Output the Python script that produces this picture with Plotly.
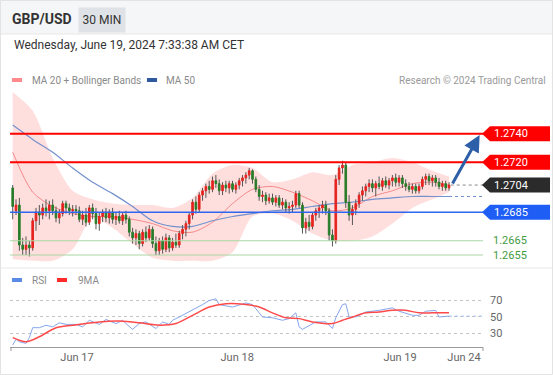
import plotly.graph_objects as go

# ---------------- data ----------------
candle_idx = list(range(132))
opens = [1.2702,1.2686,1.2690,1.2662,1.2659,1.2662,1.2660,1.2679,1.2685,1.2683,
         1.2688,1.2686,1.2690,1.2686,1.2681,1.2684,1.2691,1.2688,1.2686,1.2687,
         1.2686,1.2680,1.2683,1.2678,1.2688,1.2684,1.2677,1.2682,1.2685,1.2681,
         1.2685,1.2680,1.2682,1.2679,1.2683,1.2680,1.2671,1.2667,1.2670,1.2663,
         1.2671,1.2667,1.2673,1.2663,1.2658,1.2665,1.2659,1.2667,1.2660,1.2664,
         1.2662,1.2670,1.2673,1.2677,1.2683,1.2692,1.2687,1.2697,1.2700,1.2703,
         1.2701,1.2707,1.2705,1.2700,1.2704,1.2702,1.2705,1.2701,1.2704,1.2707,
         1.2709,1.2711,1.2714,1.2708,1.2701,1.2696,1.2697,1.2693,1.2695,1.2692,
         1.2695,1.2690,1.2692,1.2688,1.2689,1.2690,1.2698,1.2690,1.2674,1.2678,
         1.2675,1.2683,1.2686,1.2688,1.2690,1.2686,1.2669,1.2665,1.2708,1.2716,
         1.2718,1.2692,1.2683,1.2687,1.2691,1.2697,1.2700,1.2703,1.2705,1.2702,
         1.2705,1.2703,1.2707,1.2704,1.2707,1.2709,1.2706,1.2709,1.2705,1.2703,
         1.2701,1.2703,1.2700,1.2703,1.2708,1.2710,1.2707,1.2709,1.2706,1.2703,
         1.2705,1.2702]
highs = [1.2704,1.2694,1.2695,1.2667,1.2668,1.2665,1.2681,1.2688,1.2690,1.2691,
         1.2694,1.2693,1.2694,1.2689,1.2687,1.2693,1.2693,1.2691,1.2690,1.2690,
         1.2689,1.2686,1.2688,1.2690,1.2691,1.2688,1.2685,1.2687,1.2688,1.2687,
         1.2688,1.2685,1.2686,1.2685,1.2686,1.2682,1.2674,1.2673,1.2672,1.2673,
         1.2675,1.2676,1.2675,1.2668,1.2667,1.2668,1.2670,1.2669,1.2667,1.2670,
         1.2672,1.2676,1.2679,1.2685,1.2694,1.2696,1.2699,1.2702,1.2705,1.2707,
         1.2710,1.2711,1.2708,1.2706,1.2707,1.2707,1.2707,1.2706,1.2709,1.2711,
         1.2713,1.2716,1.2715,1.2710,1.2704,1.2700,1.2699,1.2698,1.2698,1.2697,
         1.2697,1.2695,1.2694,1.2692,1.2693,1.2700,1.2700,1.2692,1.2681,1.2683,
         1.2685,1.2688,1.2690,1.2693,1.2693,1.2688,1.2673,1.2711,1.2718,1.2721,
         1.2720,1.2697,1.2690,1.2694,1.2699,1.2703,1.2705,1.2708,1.2708,1.2707,
         1.2710,1.2709,1.2710,1.2709,1.2711,1.2712,1.2711,1.2711,1.2708,1.2706,
         1.2705,1.2705,1.2705,1.2710,1.2712,1.2712,1.2711,1.2711,1.2709,1.2707,
         1.2707,1.2706]
lows = [1.2680,1.2683,1.2658,1.2655,1.2655,1.2654,1.2658,1.2672,1.2676,1.2680,
        1.2682,1.2680,1.2683,1.2678,1.2677,1.2682,1.2684,1.2683,1.2682,1.2683,
        1.2678,1.2676,1.2675,1.2676,1.2680,1.2673,1.2672,1.2678,1.2678,1.2677,
        1.2677,1.2676,1.2677,1.2676,1.2677,1.2668,1.2663,1.2662,1.2659,1.2661,
        1.2664,1.2665,1.2660,1.2655,1.2655,1.2656,1.2657,1.2657,1.2658,1.2660,
        1.2660,1.2666,1.2668,1.2673,1.2680,1.2684,1.2685,1.2693,1.2695,1.2698,
        1.2699,1.2702,1.2697,1.2697,1.2699,1.2698,1.2699,1.2698,1.2701,1.2703,
        1.2705,1.2708,1.2705,1.2699,1.2693,1.2692,1.2690,1.2691,1.2690,1.2689,
        1.2688,1.2687,1.2685,1.2684,1.2685,1.2688,1.2688,1.2670,1.2670,1.2672,
        1.2673,1.2679,1.2681,1.2684,1.2683,1.2665,1.2661,1.2663,1.2704,1.2712,
        1.2688,1.2679,1.2676,1.2683,1.2688,1.2693,1.2696,1.2699,1.2699,1.2696,
        1.2701,1.2700,1.2702,1.2701,1.2703,1.2703,1.2703,1.2702,1.2700,1.2699,
        1.2698,1.2698,1.2698,1.2701,1.2704,1.2704,1.2703,1.2703,1.2701,1.2700,
        1.2700,1.2700]
closes = [1.2689,1.2690,1.2662,1.2659,1.2662,1.2660,1.2679,1.2685,1.2683,1.2688,
          1.2686,1.2690,1.2686,1.2681,1.2684,1.2691,1.2688,1.2686,1.2687,1.2686,
          1.2680,1.2683,1.2678,1.2688,1.2684,1.2677,1.2682,1.2685,1.2681,1.2685,
          1.2680,1.2682,1.2679,1.2683,1.2680,1.2671,1.2667,1.2670,1.2663,1.2671,
          1.2667,1.2673,1.2663,1.2658,1.2665,1.2659,1.2667,1.2660,1.2664,1.2662,
          1.2670,1.2673,1.2677,1.2683,1.2692,1.2687,1.2697,1.2700,1.2703,1.2701,
          1.2707,1.2705,1.2700,1.2704,1.2702,1.2705,1.2701,1.2704,1.2707,1.2709,
          1.2711,1.2714,1.2708,1.2701,1.2696,1.2697,1.2693,1.2695,1.2692,1.2695,
          1.2690,1.2692,1.2688,1.2689,1.2690,1.2698,1.2690,1.2674,1.2678,1.2675,
          1.2683,1.2686,1.2688,1.2690,1.2686,1.2669,1.2665,1.2708,1.2716,1.2718,
          1.2692,1.2683,1.2687,1.2691,1.2697,1.2700,1.2703,1.2705,1.2702,1.2705,
          1.2703,1.2707,1.2704,1.2707,1.2709,1.2706,1.2709,1.2705,1.2703,1.2701,
          1.2703,1.2700,1.2703,1.2708,1.2710,1.2707,1.2709,1.2706,1.2703,1.2705,
          1.2702,1.2704]

ind_idx = [0, 6, 12, 18, 24, 30, 36, 42, 48, 54, 60, 66, 72, 78, 84, 90, 96, 102, 108, 114, 120, 126, 131]
ma20 = [1.2727, 1.2699, 1.2689, 1.2684, 1.2682, 1.2682, 1.2680, 1.2677, 1.2672, 1.2671, 1.2678, 1.2691,
        1.2701, 1.2703, 1.2699, 1.2693, 1.2686, 1.2688, 1.2696, 1.2700, 1.2705, 1.2706, 1.2704]
ma50 = [1.2746, 1.2736, 1.2727, 1.2716, 1.2706, 1.2698, 1.2689, 1.2679, 1.2675, 1.2675, 1.2679, 1.2682,
        1.2684, 1.2686, 1.2687, 1.2689, 1.2691, 1.2692, 1.2694, 1.2695, 1.2696, 1.2696, 1.2696]
bb_upper = [1.2769, 1.2756, 1.2723, 1.2700, 1.2694, 1.2691, 1.2690, 1.2690, 1.2688, 1.2695, 1.2712, 1.2718,
            1.2716, 1.2706, 1.2708, 1.2713, 1.2711, 1.2718, 1.2720, 1.2723, 1.2720, 1.2714, 1.2710]
bb_lower = [1.2652, 1.2651, 1.2651, 1.2659, 1.2681, 1.2674, 1.2663, 1.2653, 1.2651, 1.2651, 1.2651, 1.2657,
            1.2682, 1.2684, 1.2679, 1.2670, 1.2665, 1.2665, 1.2668, 1.2677, 1.2688, 1.2694, 1.2699]

rsi_idx = [0, 1, 2, 4, 5, 6, 8, 10, 12, 14, 16, 19, 21, 23, 26, 28, 31, 33, 34, 36, 38, 40, 43, 45, 47, 48,
           50, 53, 55, 57, 59, 61, 62, 66, 70, 72, 75, 78, 81, 83, 85, 86, 87, 89, 91, 94, 96, 97, 99, 100,
           101, 103, 106, 110, 114, 116, 120, 122, 124, 127, 128, 131]
rsi = [16, 23, 20, 18, 25, 37, 37, 40, 38, 43, 41, 41, 38, 46, 41, 47, 42, 46, 42, 35, 42, 44, 36, 44, 41, 46,
       50, 56, 61, 65, 70, 72, 65, 62, 67, 65, 50, 49, 46, 48, 55, 38, 35, 40, 44, 44, 36, 49, 65, 66,
       50, 50, 56, 58, 61, 57, 52, 52, 57, 58, 50, 51]
ma9_idx = [0, 4, 8, 13, 18, 26, 32, 38, 44, 49, 54, 59, 64, 70, 74, 78, 82, 86, 90, 96, 99, 102, 106, 110,
           114, 118, 122, 126, 131]
rsi_ma9 = [25, 20, 26, 37, 40, 44, 45, 43, 40, 42, 52, 62, 66, 65, 62, 55, 49, 48, 44, 42, 46, 50, 55, 56,
           58, 58, 55, 55, 55]

level_prices = [1.2740, 1.2720, 1.2704, 1.2685, 1.2665, 1.2655]
level_texts = ["1.2740", "1.2720", "1.2704", "1.2685", "1.2665", "1.2655"]
date_tick_idx = [19.3, 67.4, 116.3, 135.5]
date_tick_labels = ["Jun 17", "Jun 18", "Jun 19", "Jun 24"]
rsi_ticks = [30, 50, 70]

# ---------------- layout helpers ----------------
W, H = 553, 375
FONT = "Roboto, Arial, sans-serif"


def px(x):
    return x / W


def py(y):
    return 1 - y / H


X_RANGE = [-0.81, 141.2]
Y_RANGE = [1.2648, 1.2772]
PRICE_PER_PX = (Y_RANGE[1] - Y_RANGE[0]) / (265 - 88)

fig = go.Figure()

# Bollinger band area (base subplot)
fig.add_trace(go.Scatter(x=ind_idx, y=bb_lower, mode="lines",
                         line=dict(width=0, shape="spline", smoothing=0.8),
                         hoverinfo="skip", showlegend=False))
fig.add_trace(go.Scatter(x=ind_idx, y=bb_upper, mode="lines",
                         line=dict(width=0, shape="spline", smoothing=0.8),
                         fill="tonexty", fillcolor="rgba(255,190,190,0.5)",
                         hoverinfo="skip", showlegend=False))
# MA lines
fig.add_trace(go.Scatter(x=ind_idx, y=ma20, mode="lines",
                         line=dict(width=1, color="rgba(240,110,110,0.75)", shape="spline", smoothing=0.8),
                         hoverinfo="skip", showlegend=False))
fig.add_trace(go.Scatter(x=ind_idx, y=ma50, mode="lines",
                         line=dict(width=1.2, color="#7391cc", shape="spline", smoothing=0.8),
                         hoverinfo="skip", showlegend=False))
fig.add_trace(go.Scatter(x=[ind_idx[-1], X_RANGE[1]], y=[ma50[-1], ma50[-1]], mode="lines",
                         line=dict(width=1.2, color="#7391cc", dash="dot"),
                         hoverinfo="skip", showlegend=False))
# last price dotted line
fig.add_trace(go.Scatter(x=[candle_idx[-1] + 0.5, X_RANGE[1]], y=[closes[-1], closes[-1]], mode="lines",
                         line=dict(width=1, color="#888888", dash="dot"),
                         hoverinfo="skip", showlegend=False))

# wicks (dark), under the bodies
wx, wy = [], []
for i, h, l in zip(candle_idx, highs, lows):
    wx += [i, i, None]
    wy += [l, h, None]
fig.add_trace(go.Scatter(x=wx, y=wy, mode="lines", line=dict(width=1, color="#555555"),
                         hoverinfo="skip", showlegend=False))

# candle bodies on an overlaid axis so they sit on top of the wicks
body_top = [max(o, c) for o, c in zip(opens, closes)]
body_bot = [min(o, c) for o, c in zip(opens, closes)]
fig.add_trace(go.Candlestick(x=candle_idx, open=opens, high=body_top, low=body_bot, close=closes,
                             xaxis="x", yaxis="y3",
                             increasing=dict(fillcolor="#e52521", line=dict(color="#e52521", width=1)),
                             decreasing=dict(fillcolor="#2a7d2a", line=dict(color="#2a7d2a", width=1)),
                             whiskerwidth=0, hoverinfo="skip", showlegend=False))

# RSI panel
fig.add_trace(go.Scatter(x=rsi_idx, y=rsi, mode="lines", xaxis="x2", yaxis="y2",
                         line=dict(width=1, color="#86a6ec"), hoverinfo="skip", showlegend=False))
fig.add_trace(go.Scatter(x=[rsi_idx[-1], X_RANGE[1]], y=[rsi[-1], rsi[-1]], mode="lines",
                         xaxis="x2", yaxis="y2",
                         line=dict(width=1, color="#a9bff2", dash="dot"), hoverinfo="skip", showlegend=False))
fig.add_trace(go.Scatter(x=ma9_idx, y=rsi_ma9, mode="lines", xaxis="x2", yaxis="y2",
                         line=dict(width=1.5, color="#ff4a4a", shape="spline", smoothing=0.8),
                         hoverinfo="skip", showlegend=False))

shapes = []
annotations = []

# frame / header
shapes.append(dict(type="rect", xref="paper", yref="paper", x0=0, x1=1, y0=py(34), y1=1,
                   fillcolor="#f5f6f7", line=dict(width=0), layer="below"))
shapes.append(dict(type="line", xref="paper", yref="paper", x0=0, x1=1, y0=py(34), y1=py(34),
                   line=dict(color="#e6e7e8", width=1)))
shapes.append(dict(type="line", xref="paper", yref="paper", x0=0, x1=1, y0=py(268), y1=py(268),
                   line=dict(color="#e8e8e8", width=1)))
shapes.append(dict(type="rect", xref="paper", yref="paper", x0=px(0.5), x1=px(552.5), y0=py(374.5), y1=py(0.5),
                   line=dict(color="#e3e3e3", width=1)))

annotations.append(dict(text="<b>GBP/USD</b>", x=px(10), y=py(19), xref="paper", yref="paper",
                        xanchor="left", yanchor="middle", showarrow=False,
                        font=dict(family=FONT, size=14, color="#333333")))
annotations.append(dict(text="30 MIN", x=px(101.5), y=py(19.5), xref="paper", yref="paper",
                        xanchor="center", yanchor="middle", showarrow=False, bgcolor="#dfe2e6",
                        width=40, height=18, borderpad=3,
                        font=dict(family=FONT, size=12, color="#333333")))
annotations.append(dict(text="Wednesday, June 19, 2024 7:33:38 AM CET", x=px(12), y=py(45),
                        xref="paper", yref="paper", xanchor="left", yanchor="middle", showarrow=False,
                        font=dict(family=FONT, size=12, color="#333333")))

# legends
shapes.append(dict(type="rect", xref="paper", yref="paper", x0=px(12), x1=px(22), y0=py(82), y1=py(78),
                   fillcolor="#ff8a8a", line=dict(width=0)))
annotations.append(dict(text="MA 20 + Bollinger Bands", x=px(30), y=py(80), xref="paper", yref="paper",
                        xanchor="left", yanchor="middle", showarrow=False,
                        font=dict(family=FONT, size=10, color="#8a8a8a")))
shapes.append(dict(type="rect", xref="paper", yref="paper", x0=px(147), x1=px(157), y0=py(82), y1=py(78),
                   fillcolor="#2d5a9c", line=dict(width=0)))
annotations.append(dict(text="MA 50", x=px(164), y=py(80), xref="paper", yref="paper",
                        xanchor="left", yanchor="middle", showarrow=False,
                        font=dict(family=FONT, size=10, color="#8a8a8a")))
annotations.append(dict(text="Research © 2024 Trading Central", x=px(548), y=py(80), xref="paper",
                        yref="paper", xanchor="right", yanchor="middle", showarrow=False,
                        font=dict(family=FONT, size=10, color="#9a9a9a")))
shapes.append(dict(type="rect", xref="paper", yref="paper", x0=px(12), x1=px(22), y0=py(282), y1=py(278),
                   fillcolor="#5b8ae6", line=dict(width=0)))
annotations.append(dict(text="RSI", x=px(30), y=py(280), xref="paper", yref="paper",
                        xanchor="left", yanchor="middle", showarrow=False,
                        font=dict(family=FONT, size=10, color="#8a8a8a")))
shapes.append(dict(type="rect", xref="paper", yref="paper", x0=px(57), x1=px(67), y0=py(282), y1=py(278),
                   fillcolor="#ff2a2a", line=dict(width=0)))
annotations.append(dict(text="9MA", x=px(76), y=py(280), xref="paper", yref="paper",
                        xanchor="left", yanchor="middle", showarrow=False,
                        font=dict(family=FONT, size=10, color="#8a8a8a")))

# level lines and tags
line_styles = [("#ff0000", 2), ("#ff0000", 2), None, ("#2f66f0", 1.5), ("#a9d8a4", 1.2), ("#a9d8a4", 1.2)]
tag_colors = ["#ff0000", "#ff0000", "#2b2b2b", "#1f5ef5", None, None]
half = 7.5 * PRICE_PER_PX
for p, t, ls, tc in zip(level_prices, level_texts, line_styles, tag_colors):
    if ls is not None:
        shapes.append(dict(type="line", xref="x", yref="y", x0=X_RANGE[0], x1=X_RANGE[1], y0=p, y1=p,
                           line=dict(color=ls[0], width=ls[1]), layer="above"))
    if tc is not None:
        path = (f"M {px(482)},{p} L {px(490)},{p + half} L {px(550)},{p + half} "
                f"L {px(550)},{p - half} L {px(490)},{p - half} Z")
        shapes.append(dict(type="path", xref="paper", yref="y", path=path, fillcolor=tc,
                           line=dict(width=0), layer="above"))
        annotations.append(dict(text=t, x=px(492), y=p, xref="paper", yref="y", xanchor="left",
                                yanchor="middle", showarrow=False,
                                font=dict(family=FONT, size=11, color="white")))
    else:
        annotations.append(dict(text=t, x=px(491), y=p, xref="paper", yref="y", xanchor="left",
                                yanchor="middle", showarrow=False,
                                font=dict(family=FONT, size=11, color="#3f9b3f")))

# forecast arrow
annotations.append(dict(x=140.2, y=level_prices[0] - 0.0001, xref="x", yref="y",
                        ax=candle_idx[-1] + 0.8, ay=closes[-1], axref="x", ayref="y",
                        text="", showarrow=True, arrowhead=2, arrowsize=1.1, arrowwidth=3,
                        arrowcolor="#2d5ea8"))

# RSI axis end ticks
for xp in (11, 483):
    shapes.append(dict(type="line", xref="paper", yref="paper", x0=px(xp), x1=px(xp),
                       y0=py(347), y1=py(351), line=dict(color="#999999", width=1)))

fig.update_layout(
    width=W, height=H,
    margin=dict(l=0, r=0, t=0, b=0),
    paper_bgcolor="white", plot_bgcolor="white",
    hovermode=False, showlegend=False,
    font=dict(family=FONT),
    xaxis=dict(domain=[px(10), px(483)], range=X_RANGE, visible=False, anchor="y",
               rangeslider=dict(visible=False), fixedrange=True),
    yaxis=dict(domain=[py(265), py(88)], range=Y_RANGE, visible=False, anchor="x", fixedrange=True),
    yaxis3=dict(range=Y_RANGE, overlaying="y", visible=False, anchor="x", fixedrange=True),
    xaxis2=dict(domain=[px(10), px(483)], range=X_RANGE, anchor="y2", showline=True, linecolor="#9a9a9a",
                linewidth=1, ticks="", tickvals=date_tick_idx, ticktext=date_tick_labels,
                tickfont=dict(family=FONT, size=11, color="#666666"), showgrid=False, zeroline=False,
                fixedrange=True),
    yaxis2=dict(domain=[py(347), py(290)], range=[13.6, 82.7], anchor="x2", side="right",
                tickvals=rsi_ticks, showgrid=True, griddash="dot", gridcolor="#c4c4c4", gridwidth=1,
                zeroline=False, showline=False, ticks="", ticklabelstandoff=6, fixedrange=True,
                tickfont=dict(family=FONT, size=11, color="#666666")),
    shapes=shapes,
    annotations=annotations,
)

fig.write_html("out.html", config={"displayModeBar": False, "staticPlot": True},
               post_script="document.body.style.margin='0px';document.body.style.overflow='hidden';")
